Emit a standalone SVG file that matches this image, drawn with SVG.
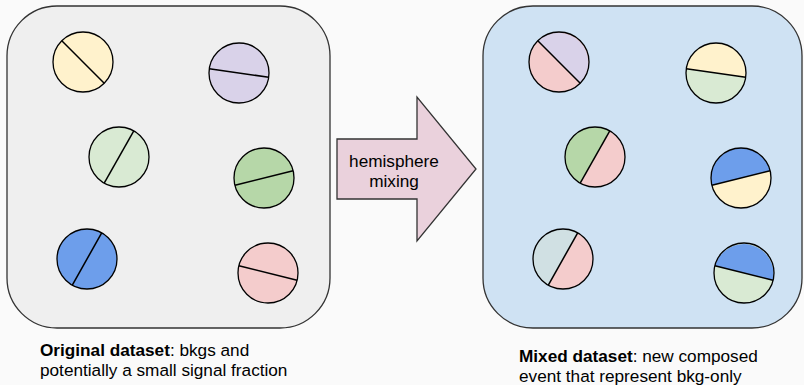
<svg xmlns="http://www.w3.org/2000/svg" width="804" height="385" viewBox="0 0 804 385">
<style>
.box{stroke:#333;stroke-width:1.3}
.c{stroke:#000;stroke-width:1.3}
.h{stroke:none}
.ch{stroke:#000;stroke-width:1.5}
text{font-family:"Liberation Sans",Arial,sans-serif;font-size:17.2px;fill:#000}
.b{font-weight:bold}
</style>
<rect width="804" height="385" fill="#fafafa"/>
<g id="original-box">
<rect class="box" x="7" y="6" width="323" height="322" rx="50" fill="#efefef"/>
</g>
<g id="mixed-box">
<rect class="box" x="483" y="6" width="319" height="322" rx="50" fill="#cfe2f3"/>
</g>
<g id="o1"><circle class="c" cx="83" cy="62" r="30" fill="#fff2cc"/><line class="ch" x1="61.8" y1="40.8" x2="104.2" y2="83.2"/></g>
<g id="o2"><circle class="c" cx="239" cy="73" r="30" fill="#d9d2e9"/><line class="ch" x1="209.3" y1="68.8" x2="268.7" y2="77.2"/></g>
<g id="o3"><circle class="c" cx="119" cy="157" r="30" fill="#d9ead3"/><line class="ch" x1="133.8" y1="130.9" x2="104.2" y2="183.1"/></g>
<g id="o4"><circle class="c" cx="264" cy="178" r="30" fill="#b6d7a8"/><line class="ch" x1="235" y1="185.3" x2="293.1" y2="170.7"/></g>
<g id="o5"><circle class="c" cx="87" cy="259" r="30" fill="#6d9eeb"/><line class="ch" x1="101.7" y1="232.8" x2="72.3" y2="285.2"/></g>
<g id="o6"><circle class="c" cx="268" cy="273" r="30" fill="#f4cccc"/><line class="ch" x1="238.9" y1="265.8" x2="297.1" y2="280.2"/></g>

<g id="m1"><circle cx="559" cy="62" r="30" fill="#f4cccc"/><path class="h" d="M537.8,40.8 A30,30 0 0 1 580.2,83.2 Z" fill="#d9d2e9"/><circle class="c" cx="559" cy="62" r="30" fill="none"/><line class="ch" x1="537.8" y1="40.8" x2="580.2" y2="83.2"/></g>
<g id="m2"><circle cx="716" cy="73" r="30" fill="#d9ead3"/><path class="h" d="M686.3,68.8 A30,30 0 0 1 745.7,77.2 Z" fill="#fff2cc"/><circle class="c" cx="716" cy="73" r="30" fill="none"/><line class="ch" x1="686.3" y1="68.8" x2="745.7" y2="77.2"/></g>
<g id="m3"><circle cx="595" cy="157" r="30" fill="#f4cccc"/><path class="h" d="M580.2,183.1 A30,30 0 0 1 609.8,130.9 Z" fill="#b6d7a8"/><circle class="c" cx="595" cy="157" r="30" fill="none"/><line class="ch" x1="609.8" y1="130.9" x2="580.2" y2="183.1"/></g>
<g id="m4"><circle cx="741" cy="178" r="30" fill="#fff2cc"/><path class="h" d="M711.9,185.3 A30,30 0 0 1 770.1,170.7 Z" fill="#6d9eeb"/><circle class="c" cx="741" cy="178" r="30" fill="none"/><line class="ch" x1="711.9" y1="185.3" x2="770.1" y2="170.7"/></g>
<g id="m5"><circle cx="563" cy="259" r="30" fill="#f4cccc"/><path class="h" d="M548.3,285.2 A30,30 0 0 1 577.7,232.8 Z" fill="#d0e0e3"/><circle class="c" cx="563" cy="259" r="30" fill="none"/><line class="ch" x1="577.7" y1="232.8" x2="548.3" y2="285.2"/></g>
<g id="m6"><circle cx="744" cy="273" r="30" fill="#d9ead3"/><path class="h" d="M714.9,265.8 A30,30 0 0 1 773.1,280.2 Z" fill="#6d9eeb"/><circle class="c" cx="744" cy="273" r="30" fill="none"/><line class="ch" x1="714.9" y1="265.8" x2="773.1" y2="280.2"/></g>

<g id="connectors">
<g id="hemisphere-mixing">
<path d="M337,139 H417 V97 L476,169 L417,241 V199 H337 Z" fill="#ead1dc" stroke="#333" stroke-width="1.3" stroke-linejoin="miter"/>
<text x="394" y="167" text-anchor="middle" font-size="17">hemisphere</text>
<text x="394" y="187" text-anchor="middle" font-size="17">mixing</text>
</g>
</g>
<g id="label-original">
<text x="40" y="356"><tspan class="b">Original dataset</tspan>: bkgs and</text>
<text x="40" y="376">potentially a small signal fraction</text>
</g>
<g id="label-mixed">
<text x="519" y="362"><tspan class="b">Mixed dataset</tspan>: new composed</text>
<text x="519" y="382">event that represent bkg-only</text>
</g>
</svg>
